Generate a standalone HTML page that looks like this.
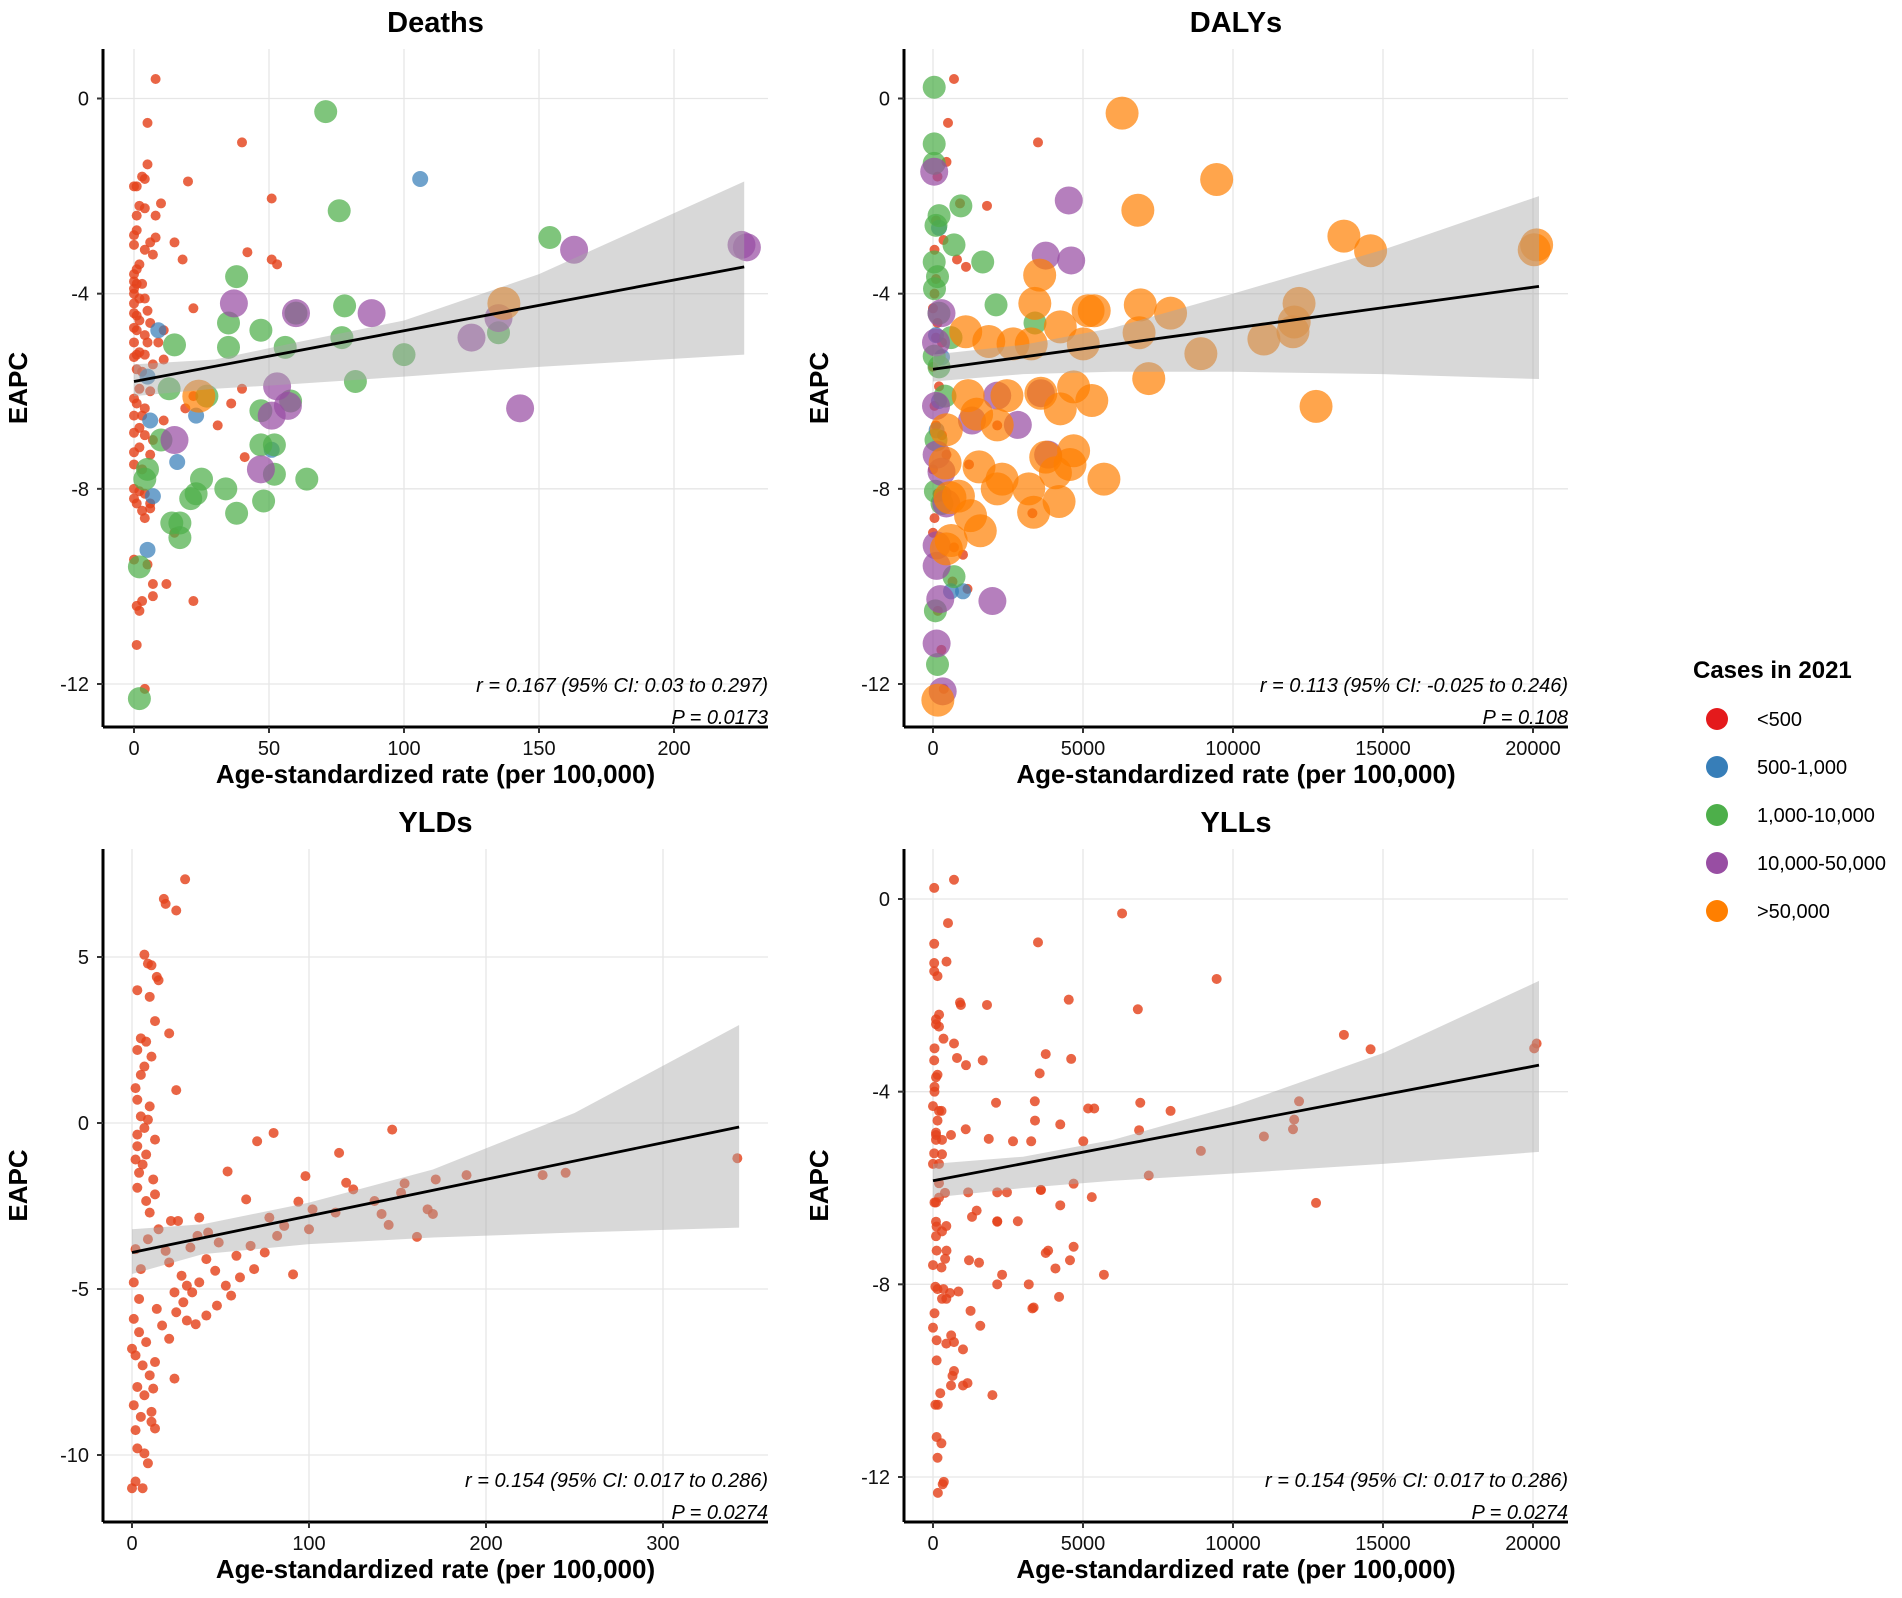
<!DOCTYPE html>
<html><head><meta charset="utf-8">
<style>
html,body{margin:0;padding:0;background:#fff;}
svg{display:block;font-family:"Liberation Sans",sans-serif;}
</style></head>
<body>
<svg id="fig" width="1902" height="1598" viewBox="0 0 1902 1598" xmlns="http://www.w3.org/2000/svg">
<rect width="1902" height="1598" fill="#fff"/>
</svg>
<script>
// ---- category metadata ----
const catLabels = ["<500","500-1,000","1,000-10,000","10,000-50,000",">50,000"];
const catColors = ["#e4431c","#377eb8","#4daf4a","#984ea3","#ff7f00"];
const catOpac = [0.82,0.72,0.72,0.72,0.7];
const catRad = [5,8,11.5,14,16.5];

// ---- Deaths: [rate, EAPC, category] ----
const deathsPts = [
[8,0.4,0],[5,-0.5,0],[40,-0.9,0],[5,-1.35,0],[3,-1.6,0],[4,-1.65,0],[0,-1.8,0],[1,-1.8,0],[20,-1.7,0],[10,-2.15,0],[2,-2.2,0],[4,-2.25,0],[51,-2.05,0],[1,-2.4,0],[8,-2.4,0],[0,-2.8,0],[1,-2.7,0],[8,-2.85,0],[15,-2.95,0],[6,-2.95,0],[0,-3.0,0],[4,-3.1,0],[7,-3.2,0],[18,-3.3,0],[42,-3.15,0],[51,-3.3,0],[53,-3.4,0],[2,-3.4,0],[0,-3.6,0],[1,-3.5,0],[0,-3.75,0],[1,-3.8,0],[3,-3.8,0],[0,-3.9,0],[0,-4.0,0],[2,-4.1,0],[0,-4.2,0],[4,-4.1,0],[22,-4.3,0],[0,-4.4,0],[1,-4.45,0],[5,-4.35,0],[2,-4.55,0],[6,-4.6,0],[0,-4.7,0],[1,-4.75,0],[4,-4.85,0],[11,-4.75,0],[0,-5.0,0],[5,-5.0,0],[9,-5.0,0],[2,-5.2,0],[0,-5.3,0],[1,-5.25,0],[4,-5.25,0],[7,-5.45,0],[11,-5.35,0],[1,-5.55,0],[3,-5.6,0],[6,-6.0,0],[2,-5.95,0],[40,-5.95,0],[22,-6.1,0],[0,-6.15,0],[1,-6.25,0],[4,-6.35,0],[0,-6.5,0],[3,-6.5,0],[11,-6.6,0],[19,-6.35,0],[36,-6.25,0],[31,-6.7,0],[0,-6.85,0],[2,-6.75,0],[4,-6.9,0],[7,-7.0,0],[0,-7.25,0],[2,-7.15,0],[6,-7.3,0],[0,-7.5,0],[3,-7.6,0],[41,-7.35,0],[0,-8.0,0],[2,-8.05,0],[4,-8.1,0],[0,-8.2,0],[1,-8.3,0],[3,-8.45,0],[6,-8.3,0],[4,-8.6,0],[6,-8.4,0],[15,-8.9,0],[0,-9.45,0],[5,-9.55,0],[7,-9.95,0],[12,-9.95,0],[7,-10.2,0],[22,-10.3,0],[3,-10.3,0],[1,-10.4,0],[2,-10.5,0],[1,-11.2,0],[4,-12.1,0],
[106,-1.65,1],[9,-4.75,1],[5,-5.7,1],[6,-6.6,1],[23,-6.5,1],[16,-7.45,1],[7,-8.15,1],[5,-9.25,1],[51,-7.2,1],
[71,-0.27,2],[76,-2.3,2],[154,-2.85,2],[38,-3.65,2],[78,-4.25,2],[35,-4.6,2],[47,-4.75,2],[15,-5.05,2],[35,-5.1,2],[56,-5.1,2],[77,-4.9,2],[100,-5.25,2],[135,-4.8,2],[82,-5.8,2],[13,-5.95,2],[10,-7.0,2],[58,-6.2,2],[47,-6.4,2],[47,-7.1,2],[52,-7.1,2],[52,-7.7,2],[64,-7.8,2],[5,-7.6,2],[4,-7.8,2],[25,-7.8,2],[34,-8.0,2],[23,-8.1,2],[21,-8.2,2],[38,-8.5,2],[48,-8.25,2],[14,-8.7,2],[17,-8.7,2],[17,-9.0,2],[2,-9.6,2],[2,-12.3,2],[60,-4.4,2],[27,-6.1,2],
[37,-4.2,3],[60,-4.4,3],[88,-4.4,3],[163,-3.1,3],[225,-3.0,3],[227,-3.05,3],[125,-4.9,3],[135,-4.5,3],[53,-5.9,3],[57,-6.3,3],[51,-6.5,3],[15,-7.0,3],[47,-7.6,3],[143,-6.35,3],
[137,-4.2,4],[24,-6.1,4]
];

// ---- DALYs: [rate, EAPC, category]; YLLs panel reuses rate/EAPC pairs ----
const dalysPts = [
[700,0.4,0],[500,-0.5,0],[3500,-0.9,0],[450,-1.3,0],[150,-1.6,0],[900,-2.15,0],[1800,-2.2,0],[100,-2.5,0],[350,-2.9,0],[50,-3.1,0],[800,-3.3,0],[1100,-3.45,0],[100,-3.7,0],[50,-4.0,0],[0,-4.3,0],[150,-4.6,0],[300,-5.0,0],[0,-5.5,0],[200,-5.9,0],[50,-6.3,0],[100,-6.7,0],[450,-7.3,0],[0,-7.6,0],[150,-8.1,0],[50,-8.6,0],[700,-9.2,0],[1000,-9.35,0],[1150,-10.05,0],[650,-9.9,0],[160,-10.5,0],[280,-11.3,0],[360,-12.1,0],[100,-4.9,0],[300,-6.9,0],[0,-8.9,0],[2141,-6.7,0],[1200,-7.5,0],[3313,-8.5,0],
[100,-4.85,1],[300,-5.3,1],[200,-6.2,1],[120,-6.8,1],[350,-8.1,1],[1000,-10.1,1],[600,-10.1,1],[200,-2.65,1],
[40,0.23,2],[40,-0.93,2],[40,-1.33,2],[929,-2.2,2],[202,-2.4,2],[100,-2.6,2],[1657,-3.35,2],[2101,-4.23,2],[40,-3.35,2],[150,-3.65,2],[50,-3.9,2],[700,-3.0,2],[40,-5.28,2],[200,-5.5,2],[400,-6.1,2],[100,-7.0,2],[80,-8.05,2],[300,-8.3,2],[80,-10.5,2],[700,-9.8,2],[150,-11.6,2],[3400,-4.6,2],[200,-4.4,2],[600,-4.9,2],
[40,-1.5,3],[4525,-2.09,3],[3758,-3.22,3],[4606,-3.32,3],[283,-4.4,3],[100,-5.0,3],[2141,-6.09,3],[3596,-6.04,3],[2828,-6.69,3],[3838,-7.3,3],[121,-7.3,3],[283,-7.65,3],[1300,-6.6,3],[121,-9.16,3],[121,-9.58,3],[242,-10.26,3],[1980,-10.3,3],[121,-11.17,3],[323,-12.15,3],[444,-8.3,3],[100,-6.3,3],
[6303,-0.3,4],[9455,-1.66,4],[6828,-2.29,4],[13697,-2.82,4],[14586,-3.12,4],[20121,-3.0,4],[20040,-3.1,4],[3556,-3.62,4],[3394,-4.2,4],[6909,-4.23,4],[7919,-4.4,4],[12202,-4.2,4],[12040,-4.58,4],[12000,-4.78,4],[11030,-4.93,4],[5374,-4.35,4],[5170,-4.35,4],[4242,-4.68,4],[3273,-5.03,4],[5010,-5.03,4],[6869,-4.8,4],[8929,-5.23,4],[1091,-4.78,4],[1859,-4.98,4],[2667,-5.03,4],[7192,-5.74,4],[12768,-6.31,4],[4687,-5.91,4],[5293,-6.19,4],[4242,-6.36,4],[3596,-6.04,4],[2465,-6.09,4],[1172,-6.09,4],[1455,-6.47,4],[2141,-6.69,4],[444,-6.79,4],[404,-7.47,4],[1535,-7.55,4],[2303,-7.8,4],[2141,-8.0,4],[3192,-8.0,4],[3758,-7.35,4],[4687,-7.22,4],[4566,-7.5,4],[4081,-7.67,4],[5697,-7.8,4],[4202,-8.26,4],[3354,-8.48,4],[1252,-8.55,4],[1576,-8.86,4],[444,-9.23,4],[162,-12.33,4],[606,-9.06,4],[566,-8.18,4],[848,-8.15,4]
];

// ---- YLDs: [rate, EAPC] ----
const yldsPts = [
[30,7.34],[18,6.75],[19,6.6],[25,6.4],[7,5.07],[9,4.8],[11,4.75],[14,4.4],[15,4.3],[3,4.0],[10,3.8],[13,3.07],[21,2.7],[5,2.55],[8,2.45],[3,2.2],[11,2.0],[7,1.7],[5,1.45],[2,1.05],[25,0.99],[3,0.7],[10,0.5],[5,0.2],[9,0.1],[7,-0.15],[3,-0.35],[13,-0.5],[3,-0.7],[8,-0.95],[2,-1.1],[6,-1.25],[4,-1.5],[12,-1.7],[3,-1.95],[13,-2.15],[8,-2.35],[22,-2.95],[26,-2.95],[10,-2.7],[15,-3.2],
[70.7,-0.55],[80,-0.3],[117,-0.9],[147,-0.2],[98,-1.6],[54,-1.46],[64.5,-2.3],[77.6,-2.85],[94,-2.37],[102,-2.6],[115,-2.7],[121,-1.8],[125,-2.0],[137,-2.35],[141,-2.74],[152,-2.1],[154,-1.82],[167,-2.6],[170,-2.74],[171.6,-1.7],[189,-1.57],[232,-1.57],[245,-1.5],[342,-1.06],[161,-3.43],[145,-3.07],[91,-4.56],[86,-3.1],[82,-3.4],[67,-3.7],[59,-4.0],[49,-3.6],[43,-3.3],[38,-2.85],[37,-3.4],[33,-3.75],[42,-4.1],[47,-4.45],[38,-4.8],[34,-5.1],[29,-5.4],[25,-5.7],[31,-5.95],[36,-6.06],[42,-5.8],[53,-4.9],[61,-4.65],[69,-4.4],[31,-4.9],[28,-4.6],[21,-4.2],[19,-3.85],[24,-5.1],[56,-5.2],[48,-5.5],[75,-3.9],[100,-3.2],
[1,-5.9],[4,-6.3],[8,-6.6],[2,-7.0],[6,-7.3],[10,-7.6],[3,-7.95],[7,-8.2],[1,-8.5],[5,-8.85],[11,-9.0],[2,-9.25],[3,-9.8],[7,-9.95],[9,-10.25],[2,-10.8],[6,-11.0],[0,-11.0],[14,-5.6],[17,-6.1],[21,-6.5],[24,-7.7],[13,-7.2],[12,-8.0],[11,-8.7],[13,-9.2],[4,-5.3],[0,-6.8],[1,-4.8],[5,-4.4],[2,-3.8],[9,-3.5]
];

// ---- regression lines & 95% CI bands ----
const deathsFit = {x0:0,y0:-5.8,x1:226,y1:-3.45};
const deathsBandX = [0,30,60,100,150,226];
const deathsBandLo = [-6.1,-5.95,-5.85,-5.7,-5.5,-5.25];
const deathsBandHi = [-5.45,-5.35,-5.0,-4.55,-3.6,-1.7];
const dalysFit = {x0:0,y0:-5.55,x1:20200,y1:-3.85};
const dalysBandX = [0,3000,6000,10000,15000,20200];
const dalysBandLo = [-5.8,-5.65,-5.6,-5.6,-5.65,-5.75];
const dalysBandHi = [-5.25,-5.05,-4.7,-4.0,-3.1,-2.0];
const yldsFit = {x0:0,y0:-3.9,x1:343,y1:-0.12};
const yldsBandX = [0,40,100,170,250,343];
const yldsBandLo = [-4.55,-3.95,-3.65,-3.45,-3.3,-3.15];
const yldsBandHi = [-3.2,-3.05,-2.4,-1.4,0.3,2.95];
const yllsFit = {x0:0,y0:-5.85,x1:20200,y1:-3.45};
const yllsBandX = [0,3000,6000,10000,15000,20200];
const yllsBandLo = [-6.2,-6.0,-5.85,-5.7,-5.5,-5.25];
const yllsBandHi = [-5.5,-5.35,-5.0,-4.3,-3.2,-1.7];

const deathsXTicks=[0,50,100,150,200], deathsYTicks=[0,-4,-8,-12];
const dalysXTicks=[0,5000,10000,15000,20000], dalysYTicks=[0,-4,-8,-12];
const yldsXTicks=[0,100,200,300], yldsYTicks=[5,0,-5,-10];
const yllsXTicks=[0,5000,10000,15000,20000], yllsYTicks=[0,-4,-8,-12];

const NS="http://www.w3.org/2000/svg";
const svg=document.getElementById('fig');
function mk(tag,attrs,parent){const e=document.createElementNS(NS,tag);for(const k in attrs)e.setAttribute(k,attrs[k]);(parent||svg).appendChild(e);return e;}

function panel(o){
  const g=mk('g',{});
  
  
  const sx=v=>o.px0+(v-o.dx0)*(o.px1-o.px0)/(o.dx1-o.dx0);
  const sy=v=>o.py0+(v-o.dy0)*(o.py1-o.py0)/(o.dy1-o.dy0);
  o.xt.forEach(t=>{const l=mk('line',{x1:sx(t),x2:sx(t),y1:o.top,y2:o.bottom,stroke:'#e6e6e6','stroke-width':1.3},g);
    });
  o.yt.forEach(t=>{const l=mk('line',{x1:o.left,x2:o.right,y1:sy(t),y2:sy(t),stroke:'#e6e6e6','stroke-width':1.3},g);
    });
  let pts=o.bx.map((x,i)=>sx(x)+','+sy(o.bhi[i]));
  pts=pts.concat(o.bx.map((x,i)=>sx(x)+','+sy(o.blo[i])).reverse());
  o.pts.forEach(p=>{const c=o.forceCat!==undefined?o.forceCat:p[2];
    const e=mk('circle',{cx:sx(p[0]),cy:sy(p[1]),r:catRad[c],fill:catColors[c],'fill-opacity':catOpac[c]},g);
    
    });
  const band=mk('polygon',{points:pts.join(' '),fill:'#a9a9a9','fill-opacity':0.45},g);
  
  
  const fl=mk('line',{x1:sx(o.fit.x0),y1:sy(o.fit.y0),x2:sx(o.fit.x1),y2:sy(o.fit.y1),stroke:'#000','stroke-width':2.8},g);
  
  
  const ax=mk('line',{x1:o.left,x2:o.right,y1:o.bottom,y2:o.bottom,stroke:'#000','stroke-width':3},g);
  
  const ay=mk('line',{x1:o.left,x2:o.left,y1:o.top,y2:o.bottom,stroke:'#000','stroke-width':3},g);
  
  o.xt.forEach(t=>{mk('line',{x1:sx(t),x2:sx(t),y1:o.bottom,y2:o.bottom+6,stroke:'#333','stroke-width':2},g);
    const tx=mk('text',{x:sx(t),y:o.bottom+28,'text-anchor':'middle','font-size':20,fill:'#111'},g);tx.textContent=t;
    });
  o.yt.forEach(t=>{mk('line',{x1:o.left-6,x2:o.left,y1:sy(t),y2:sy(t),stroke:'#333','stroke-width':2},g);
    const tx=mk('text',{x:o.left-14,y:sy(t)+7,'text-anchor':'end','font-size':20,fill:'#111'},g);tx.textContent=t;
    });
  const ti=mk('text',{x:(o.left+o.right)/2,y:o.top-17,'text-anchor':'middle','font-size':29,'font-weight':'bold'},g);ti.textContent=o.title;
  
  const xl=mk('text',{x:(o.left+o.right)/2,y:o.bottom+56,'text-anchor':'middle','font-size':26,'font-weight':'bold'},g);xl.textContent='Age-standardized rate (per 100,000)';
  
  const yc=(o.top+o.bottom)/2;
  const yl=mk('text',{x:o.left-76,y:yc,'text-anchor':'middle','font-size':26,'font-weight':'bold',transform:`rotate(-90 ${o.left-76} ${yc})`},g);yl.textContent='EAPC';
  
  const a1=mk('text',{x:o.right,y:o.bottom-35,'text-anchor':'end','font-size':20,'font-style':'italic'},g);a1.textContent=o.r;
  
  const a2=mk('text',{x:o.right,y:o.bottom-3,'text-anchor':'end','font-size':20,'font-style':'italic'},g);a2.textContent=o.p;
  
}

panel({name:'deaths',title:'Deaths',pts:deathsPts,left:103,right:768,top:49,bottom:727,px0:134,px1:674,dx0:0,dx1:200,py0:98.5,py1:684,dy0:0,dy1:-12,
  xt:deathsXTicks,yt:deathsYTicks,fit:deathsFit,bx:deathsBandX,blo:deathsBandLo,bhi:deathsBandHi,r:'r = 0.167 (95% CI: 0.03 to 0.297)',p:'P = 0.0173'});
panel({name:'dalys',title:'DALYs',pts:dalysPts,left:904,right:1568,top:49,bottom:727,px0:933,px1:1533,dx0:0,dx1:20000,py0:98.5,py1:684,dy0:0,dy1:-12,
  xt:dalysXTicks,yt:dalysYTicks,fit:dalysFit,bx:dalysBandX,blo:dalysBandLo,bhi:dalysBandHi,r:'r = 0.113 (95% CI: -0.025 to 0.246)',p:'P = 0.108'});
panel({name:'ylds',title:'YLDs',pts:yldsPts,forceCat:0,left:103,right:768,top:849,bottom:1522,px0:132,px1:663,dx0:0,dx1:300,py0:1123,py1:957,dy0:0,dy1:5,
  xt:yldsXTicks,yt:yldsYTicks,fit:yldsFit,bx:yldsBandX,blo:yldsBandLo,bhi:yldsBandHi,r:'r = 0.154 (95% CI: 0.017 to 0.286)',p:'P = 0.0274'});
panel({name:'ylls',title:'YLLs',pts:dalysPts,forceCat:0,left:904,right:1568,top:849,bottom:1522,px0:933,px1:1533,dx0:0,dx1:20000,py0:899,py1:1477,dy0:0,dy1:-12,
  xt:yllsXTicks,yt:yllsYTicks,fit:yllsFit,bx:yllsBandX,blo:yllsBandLo,bhi:yllsBandHi,r:'r = 0.154 (95% CI: 0.017 to 0.286)',p:'P = 0.0274'});

const lg=mk('g',{});


const lt=mk('text',{x:1693,y:678,'font-size':24,'font-weight':'bold'},lg);lt.textContent='Cases in 2021';


catLabels.forEach((lab,i)=>{const y=719+i*48;
  const c=mk('circle',{cx:1717,cy:y,r:11,fill:catColors[i]==='#e4431c'?'#e41a1c':catColors[i]},lg);
  
  
  const t=mk('text',{x:1757,y:y+7,'font-size':20},lg);t.textContent=lab;
  
  });
</script>
</body></html>
